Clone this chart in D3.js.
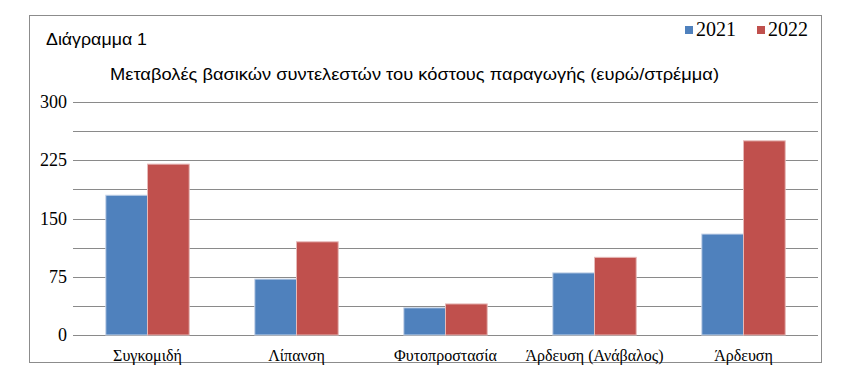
<!DOCTYPE html>
<html>
<head>
<meta charset="utf-8">
<script src="https://cdn.jsdelivr.net/npm/d3@7"></script>
<style>
  body { margin: 0; background: #fff; }
</style>
</head>
<body>
<div id="chart"></div>
<script>
// categories & values (ευρώ/στρέμμα)
var categories = ['Συγκομιδή', 'Λίπανση', 'Φυτοπροστασία', 'Άρδευση (Ανάβαλος)', 'Άρδευση'];
var years = ['2021', '2022'];
var values2021 = [180, 72, 35, 80, 130];
var values2022 = [220, 120, 40, 100, 250];
var yTicks = [0, 75, 150, 225, 300];
var yGrid = [0, 37.5, 75, 112.5, 150, 187.5, 225, 262.5, 300];
var colors = ['#4F81BD', '#C0504D'];

var SERIF = "'Liberation Serif', 'DejaVu Serif', serif";
var SANS = "'Liberation Sans', Arial, sans-serif";

function main(){
    var W = 848, H = 376;
    var svg = d3.select('#chart').append('svg')
                .attr('width', W)
                .attr('height', H);

    // outer frame
    svg.append('rect')
       .attr('x', 29.5).attr('y', 15.5)
       .attr('width', 792).attr('height', 347)
       .attr('fill', 'none')
       .attr('stroke', '#8c8c8c');

    var x0 = d3.scaleBand()
               .domain(categories)
               .range([73, 818]);
    var y = d3.scaleLinear()
              .domain([0, 300])
              .range([335, 102]);

    // gridlines
    svg.append('g').selectAll('line')
       .data(yGrid)
     .enter().append('line')
       .attr('x1', 73).attr('x2', 818)
       .attr('y1', function(d){ return Math.round(y(d)) + 0.5; })
       .attr('y2', function(d){ return Math.round(y(d)) + 0.5; })
       .attr('stroke', '#8a8a8a')
       .attr('stroke-width', 1);

    // y tick labels
    svg.append('g').selectAll('text')
       .data(yTicks)
     .enter().append('text')
       .attr('x', 67)
       .attr('y', function(d){ return y(d) + 6; })
       .attr('text-anchor', 'end')
       .style('font-family', SERIF)
       .style('font-size', '18px')
       .attr('fill', '#000')
       .text(function(d){ return d; });

    // bars
    var barW = x0.bandwidth() * 0.28;
    var data = [];
    categories.forEach(function(c, i){
        data.push({cat: c, s: 0, v: values2021[i]});
        data.push({cat: c, s: 1, v: values2022[i]});
    });
    svg.append('g').selectAll('rect')
       .data(data)
     .enter().append('rect')
       .attr('x', function(d){ return x0(d.cat) + x0.bandwidth() / 2 - barW + d.s * barW; })
       .attr('width', barW)
       .attr('y', function(d){ return y(d.v); })
       .attr('height', function(d){ return y(0) - y(d.v); })
       .attr('fill', function(d){ return colors[d.s]; })
       .attr('stroke', function(d){ return d.s === 0 ? '#c9d6ea' : '#e6b9b8'; })
       .attr('stroke-width', 1);

    // category labels
    svg.append('g').selectAll('text')
       .data(categories)
     .enter().append('text')
       .attr('x', function(d){ return x0(d) + x0.bandwidth() / 2; })
       .attr('y', 361)
       .attr('text-anchor', 'middle')
       .style('font-family', SERIF)
       .style('font-size', '16px')
       .attr('fill', '#000')
       .text(function(d){ return d; });

    // titles
    svg.append('text')
       .attr('x', 46).attr('y', 45)
       .style('font-family', SANS)
       .style('font-size', '16px')
       .attr('textLength', 101)
       .attr('lengthAdjust', 'spacingAndGlyphs')
       .text('Διάγραμμα 1');
    svg.append('text')
       .attr('x', 110).attr('y', 80)
       .style('font-family', SANS)
       .style('font-size', '16px')
       .attr('textLength', 609)
       .attr('lengthAdjust', 'spacingAndGlyphs')
       .text('Μεταβολές βασικών συντελεστών του κόστους παραγωγής (ευρώ/στρέμμα)');

    // legend
    var legX = [685, 757];
    var leg = svg.append('g').selectAll('g')
       .data(years)
     .enter().append('g');
    leg.append('rect')
       .attr('x', function(d, i){ return legX[i]; })
       .attr('y', 26)
       .attr('width', 8).attr('height', 8)
       .attr('fill', function(d, i){ return colors[i]; });
    leg.append('text')
       .attr('x', function(d, i){ return legX[i] + 11; })
       .attr('y', 36)
       .style('font-family', SERIF)
       .style('font-size', '20px')
       .text(function(d){ return d; });
}

main();
</script>
</body>
</html>
